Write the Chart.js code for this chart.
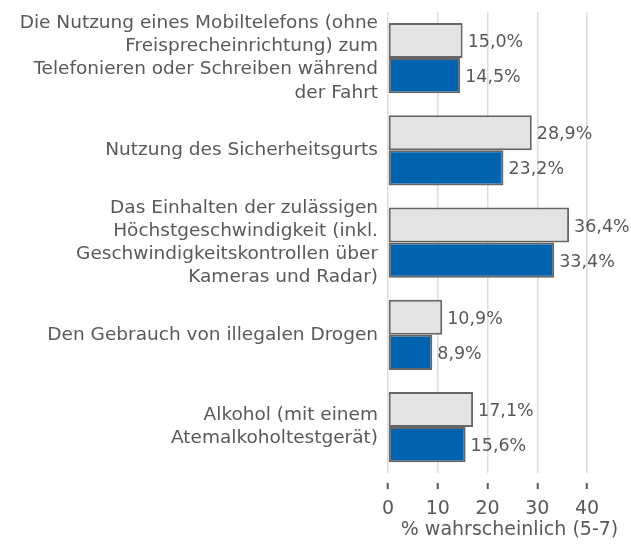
<!DOCTYPE html>
<html>
<head>
<meta charset="utf-8">
<script src="https://cdn.jsdelivr.net/npm/chart.js@4"></script>
<style>
  html, body { margin: 0; padding: 0; background: #fff; }
  #wrap { width: 631px; height: 547px; position: relative; }
</style>
</head>
<body>
<div id="wrap"><canvas id="chart"></canvas></div>
<script>
// ==================== DATOS ====================
const categorias = [
  ['Die Nutzung eines Mobiltelefons (ohne', 'Freisprecheinrichtung) zum', 'Telefonieren oder Schreiben während', 'der Fahrt'],
  'Nutzung des Sicherheitsgurts',
  ['Das Einhalten der zulässigen', 'Höchstgeschwindigkeit (inkl.', 'Geschwindigkeitskontrollen über', 'Kameras und Radar)'],
  'Den Gebrauch von illegalen Drogen',
  ['Alkohol (mit einem', 'Atemalkoholtestgerät)']
];
const serieGris = [15.0, 28.9, 36.4, 10.9, 17.1];
const serieAzul = [14.5, 23.2, 33.4, 8.9, 15.6];
const ticksX = [0, 10, 20, 30, 40];
const tituloX = '% wahrscheinlich (5-7)';

const FONT = 'DejaVu Sans';
const GRIS_TEXTO = '#595959';

// Etiquetas de valor al final de cada barra
const etiquetasPlugin = {
  id: 'etiquetas',
  afterDatasetsDraw(chart) {
    const ctx = chart.ctx;
    ctx.save();
    ctx.font = '17.5px "' + FONT + '"';
    ctx.fillStyle = GRIS_TEXTO;
    ctx.textAlign = 'left';
    ctx.textBaseline = 'middle';
    chart.data.datasets.forEach((ds, i) => {
      chart.getDatasetMeta(i).data.forEach((bar, j) => {
        const txt = ds.data[j].toFixed(1).replace('.', ',') + '%';
        ctx.fillText(txt, bar.x + 5, bar.y + 2);
      });
    });
    ctx.restore();
  }
};

// Título del eje X (centrado bajo el área del eje + etiquetas)
const tituloPlugin = {
  id: 'tituloX',
  afterDraw(chart) {
    const ctx = chart.ctx;
    const area = chart.chartArea;
    ctx.save();
    ctx.font = '19px "' + FONT + '"';
    ctx.fillStyle = GRIS_TEXTO;
    ctx.textAlign = 'center';
    ctx.textBaseline = 'middle';
    ctx.fillText(tituloX, (area.left + chart.width) / 2, area.bottom + 57);
    ctx.restore();
  }
};

new Chart(document.getElementById('chart'), {
  type: 'bar',
  data: {
    labels: categorias,
    datasets: [
      {
        data: serieGris,
        backgroundColor: '#E3E3E3',
        borderColor: '#666666',
        borderWidth: 2,
        borderSkipped: false,
        categoryPercentage: 0.76,
        barPercentage: 1
      },
      {
        data: serieAzul,
        backgroundColor: '#0063B0',
        borderColor: '#666666',
        borderWidth: 2,
        borderSkipped: false,
        categoryPercentage: 0.76,
        barPercentage: 1
      }
    ]
  },
  options: {
    indexAxis: 'y',
    responsive: true,
    maintainAspectRatio: false,
    animation: false,
    layout: { padding: { top: 12, right: 44, bottom: 19, left: 0 } },
    plugins: {
      legend: { display: false },
      tooltip: { enabled: false }
    },
    scales: {
      x: {
        min: 0,
        max: 40,
        afterBuildTicks: (axis) => { axis.ticks = ticksX.map(v => ({ value: v })); },
        border: { display: false },
        grid: {
          color: '#DCDCDC',
          lineWidth: 1.5,
          drawTicks: true,
          tickLength: 16,
          tickWidth: 2,
          tickColor: GRIS_TEXTO,
          tickBorderDash: [0, 10, 6, 0]
        },
        ticks: {
          color: GRIS_TEXTO,
          font: { family: FONT, size: 19 },
          padding: 8,
          maxRotation: 0
        }
      },
      y: {
        afterFit: (axis) => {
          axis.width = 388;
          axis.paddingTop = 0;
          axis.paddingBottom = 0;
        },
        border: { display: false },
        grid: { display: false, drawTicks: false },
        ticks: {
          autoSkip: false,
          color: GRIS_TEXTO,
          font: { family: FONT, size: 18.5, lineHeight: 1.25 },
          padding: 10
        }
      }
    }
  },
  plugins: [etiquetasPlugin, tituloPlugin]
});
</script>
</body>
</html>
